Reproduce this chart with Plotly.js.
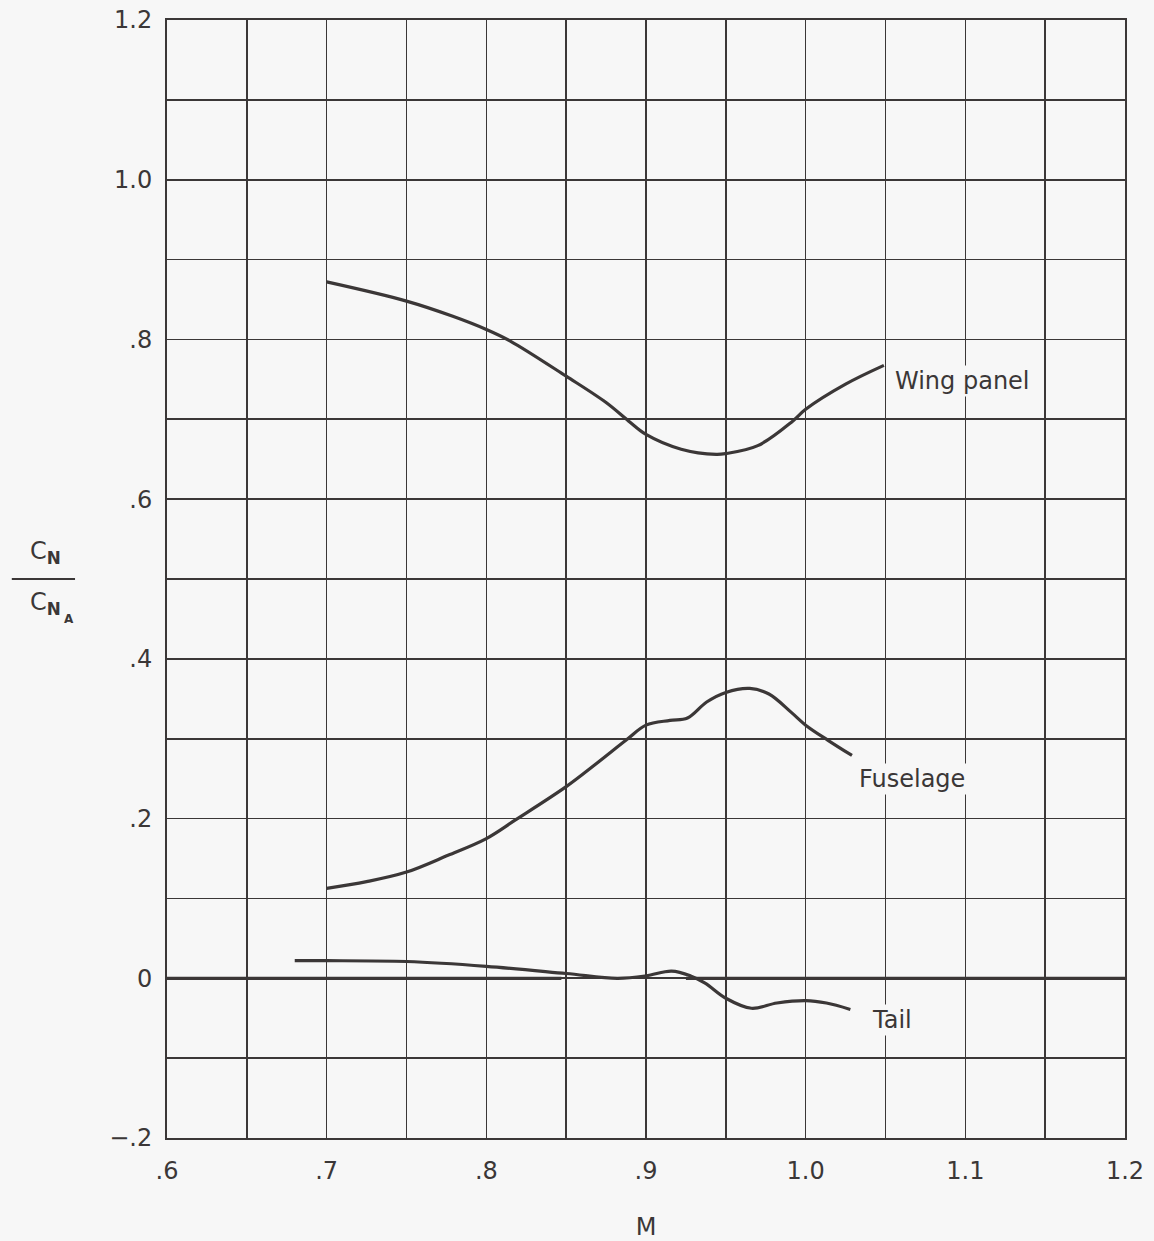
<!DOCTYPE html>
<html>
<head>
<meta charset="utf-8">
<script src="https://cdn.plot.ly/plotly-3.0.1.min.js"></script>
<style>html,body{margin:0;padding:0;background:#f7f7f7;}#chart{width:1154px;height:1241px;}</style>
</head>
<body>
<div id="chart"></div>
<script>
// Tick positions and labels
const xTickVals = [0.6,0.7,0.8,0.9,1.0,1.1,1.2];
const xTickText = [".6",".7",".8",".9","1.0","1.1","1.2"];
const yTickVals = [-0.2,0,0.2,0.4,0.6,0.8,1.0,1.2];
const yTickText = ["\u2212.2","0",".2",".4",".6",".8","1.0","1.2"];

// Wing panel
const wingM = [0.7,0.75,0.779,0.8,0.815,0.85,0.875,0.889,0.9,0.922,0.944,0.95,0.97,0.992,1.0,1.025,1.049];
const wingC = [0.872,0.848,0.829,0.8125,0.798,0.754,0.721,0.698,0.681,0.6625,0.656,0.657,0.667,0.698,0.7125,0.744,0.7675];

// Fuselage
const fusM = [0.7,0.725,0.75,0.776,0.8,0.818,0.85,0.869,0.888,0.9,0.915,0.926,0.938,0.95,0.965,0.977,0.991,1.0,1.014,1.029];
const fusC = [0.1125,0.121,0.133,0.154,0.175,0.198,0.240,0.269,0.299,0.317,0.323,0.326,0.346,0.358,0.363,0.356,0.333,0.317,0.298,0.279];

// Tail
const tailM = [0.68,0.7,0.75,0.8,0.85,0.882,0.9,0.916,0.928,0.937,0.95,0.966,0.982,1.0,1.013,1.028];
const tailC = [0.022,0.022,0.021,0.015,0.006,0.0,0.003,0.009,0.003,-0.006,-0.025,-0.0375,-0.031,-0.028,-0.031,-0.039];

// Zero reference line (two segments)
const zeroM1 = [0.6,0.847];
const zeroC1 = [0,0];
const zeroM2 = [0.925,1.2];
const zeroC2 = [0,0];

const ink = "#3b3737";
const font = "'DejaVu Sans', sans-serif";

const curve = (x,y,name,shape)=>({x:x,y:y,name:name,mode:"lines",type:"scatter",
  line:{color:ink,width:3.2,shape:shape||"spline",smoothing:1.0},hoverinfo:"skip",showlegend:false});

const data = [
  curve(zeroM1,zeroC1,"zero1","linear"),
  curve(zeroM2,zeroC2,"zero2","linear"),
  curve(wingM,wingC,"Wing panel"),
  curve(fusM,fusC,"Fuselage"),
  curve(tailM,tailC,"Tail")
];

const labelAnn = (x,y,text)=>({x:x,y:y,xref:"x",yref:"y",text:text,showarrow:false,xanchor:"left",yanchor:"middle",
  font:{family:font,size:24,color:ink},bgcolor:"#f7f7f7",borderpad:1});

const layout = {
  width:1154,height:1241,
  paper_bgcolor:"#f7f7f7",plot_bgcolor:"#f7f7f7",
  margin:{l:167,r:29,t:20,b:103},
  showlegend:false,
  xaxis:{range:[0.6,1.2],tickmode:"array",tickvals:xTickVals,ticktext:xTickText,
    showgrid:true,gridcolor:ink,gridwidth:1.6,zeroline:false,
    minor:{dtick:0.05,tick0:0.6,showgrid:true,gridcolor:ink,gridwidth:1.6,ticks:""},
    showline:true,linecolor:ink,linewidth:2,mirror:true,ticks:"",ticklabelstandoff:10,
    tickfont:{family:font,size:24,color:ink},
    title:{text:"M",font:{family:font,size:24,color:ink},standoff:38}},
  yaxis:{range:[-0.2,1.2],tickmode:"array",tickvals:yTickVals,ticktext:yTickText,
    showgrid:true,gridcolor:ink,gridwidth:1.6,zeroline:false,
    minor:{dtick:0.1,tick0:-0.2,showgrid:true,gridcolor:ink,gridwidth:1.6,ticks:""},
    showline:true,linecolor:ink,linewidth:2,mirror:true,ticks:"",ticklabelstandoff:8,
    tickfont:{family:font,size:24,color:ink}},
  annotations:[
    labelAnn(1.055,0.748,"Wing panel"),
    labelAnn(1.032,0.25,"Fuselage"),
    labelAnn(1.040,-0.052,"Tail"),
    {xref:"paper",yref:"paper",x:-0.127,y:0.524,text:"C<sub><b>N</b></sub>",showarrow:false,
      xanchor:"center",yanchor:"middle",font:{family:font,size:24,color:ink}},
    {xref:"paper",yref:"paper",x:-0.127,y:0.478,text:"C<sub><b>N</b></sub>",showarrow:false,
      xanchor:"center",yanchor:"middle",font:{family:font,size:24,color:ink}},
    {xref:"paper",yref:"paper",x:-0.102,y:0.464,text:"<b>A</b>",showarrow:false,
      xanchor:"center",yanchor:"middle",font:{family:font,size:12,color:ink}}
  ],
  shapes:[
    {type:"line",xref:"paper",yref:"paper",x0:-0.162,x1:-0.096,y0:0.5,y1:0.5,line:{color:ink,width:2}}
  ]
};

Plotly.newPlot("chart",data,layout,{staticPlot:true});
</script>
</body>
</html>
